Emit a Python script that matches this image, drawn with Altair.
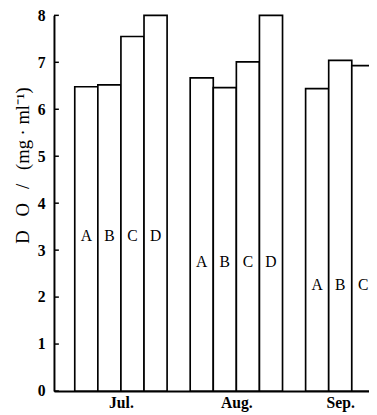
import altair as alt
import pandas as pd

months = ["Jul.", "Aug.", "Sep."]
sites = [["A", "B", "C", "D"], ["A", "B", "C", "D"], ["A", "B", "C"]]
values = [[6.48, 6.52, 7.55, 8.0], [6.67, 6.46, 7.01, 8.0], [6.44, 7.04, 6.93]]
label_heights = [3.3, 2.75, 2.25]
y_ticks = [0, 1, 2, 3, 4, 5, 6, 7, 8]
nb = "\u00a0"
y_title = "D" + nb * 3 + "O" + nb * 3 + "/" + nb * 3 + "(mg" + nb + "·" + nb + "ml⁻¹)"

rows = []
slot = 0.9
centers = []
for m, ss, vs, lh in zip(months, sites, values, label_heights):
    start = slot
    for s, v in zip(ss, vs):
        rows.append({"month": m, "site": s, "x0": slot, "x1": slot + 1, "xm": slot + 0.5, "v": v, "ly": lh})
        slot += 1
    centers.append((start + slot) / 2)
    slot += 1
df = pd.DataFrame(rows)
tdf = pd.DataFrame({"t": y_ticks})

xscale = alt.Scale(domain=[0, 13.9], nice=False, zero=False)
yscale = alt.Scale(domain=[0, 8], nice=False)

bars = alt.Chart(df).mark_rect(fill="white", stroke="black", strokeWidth=1.7).encode(
    x=alt.X("x0:Q", scale=xscale, axis=alt.Axis(
        values=centers, labelExpr="datum.value < 5 ? 'Jul.' : datum.value < 10 ? 'Aug.' : 'Sep.'",
        ticks=False, grid=False, title=None, domainColor="black", domainWidth=2,
        labelFont="Liberation Serif", labelFontSize=16, labelColor="black", labelFontWeight="bold",
        labelPadding=4)),
    x2="x1:Q",
    y=alt.Y("v:Q", scale=yscale, axis=alt.Axis(
        values=y_ticks, grid=False, ticks=False,
        domainColor="black", domainWidth=2, labelFont="Liberation Serif", labelFontSize=16,
        labelFontWeight="bold", labelColor="black", labelPadding=9,
        title=y_title, titleFont="Liberation Serif", titleFontSize=19,
        titleFontWeight="normal", titleColor="black", titleY=153, titlePadding=5)),
    y2=alt.datum(0),
)

ticks = alt.Chart(tdf).mark_rule(color="black", strokeWidth=1.5).encode(
    y=alt.Y("t:Q", scale=yscale),
    x=alt.value(0),
    x2=alt.value(5),
)

labels = alt.Chart(df).mark_text(font="Liberation Serif", fontSize=16, color="black").encode(
    x=alt.X("xm:Q", scale=xscale),
    y=alt.Y("ly:Q", scale=yscale),
    text="site:N",
)

chart = (bars + ticks + labels).properties(
    width=369, height=407,
    autosize=alt.AutoSizeParams(type="fit", contains="padding"),
    padding={"left": 6, "top": -5, "right": -7, "bottom": 0},
).configure_view(stroke=None)

chart.save("out.html", embed_options={"renderer": "svg", "actions": False})
